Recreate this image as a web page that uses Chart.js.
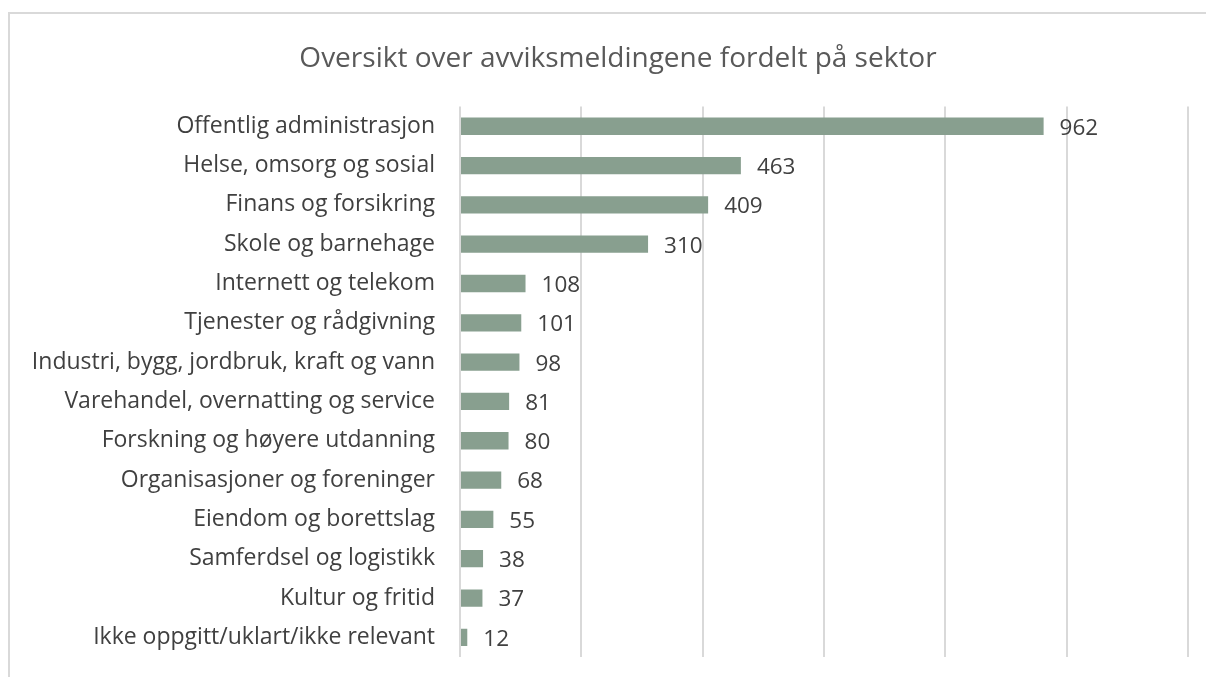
<!DOCTYPE html>
<html>
<head>
<meta charset="utf-8">
<script src="https://cdn.jsdelivr.net/npm/chart.js@4"></script>
<style>
  html, body { margin: 0; padding: 0; background: #fff; overflow: hidden; }
  #wrap { position: absolute; left: 0; top: 0; width: 1206px; height: 677px; }
  #frame { position: absolute; left: 8px; top: 12px; width: 1220px; height: 700px; border: 2px solid #d9d9d9; box-sizing: border-box; pointer-events: none; }
</style>
</head>
<body>
<div id="wrap"><canvas id="chart" width="1206" height="677"></canvas></div>
<div id="frame"></div>
<script>
const TITLE = "Oversikt over avviksmeldingene fordelt på sektor";
const SECTORS = [
  "Offentlig administrasjon",
  "Helse, omsorg og sosial",
  "Finans og forsikring",
  "Skole og barnehage",
  "Internett og telekom",
  "Tjenester og rådgivning",
  "Industri, bygg, jordbruk, kraft og vann",
  "Varehandel, overnatting og service",
  "Forskning og høyere utdanning",
  "Organisasjoner og foreninger",
  "Eiendom og borettslag",
  "Samferdsel og logistikk",
  "Kultur og fritid",
  "Ikke oppgitt/uklart/ikke relevant"
];
const COUNTS = [962, 463, 409, 310, 108, 101, 98, 81, 80, 68, 55, 38, 37, 12];
const X_MAX = 1200;
const X_STEP = 200;

const FONT = "'Open Sans', 'DejaVu Sans', sans-serif";

// skriver verdien til høyre for hver stolpe
const valueLabels = {
  id: "valueLabels",
  afterDatasetsDraw(chart) {
    let ctx = chart.ctx;
    let meta = chart.getDatasetMeta(0);
    ctx.save();
    ctx.font = "22.5px " + FONT;
    ctx.fillStyle = "#404040";
    ctx.textAlign = "left";
    ctx.textBaseline = "middle";
    meta.data.forEach((bar, i) => {
      ctx.fillText(String(COUNTS[i]), bar.x + 16, bar.y + 2);
    });
    ctx.restore();
  }
};

function renderChart() {
  const ctx = document.getElementById("chart");
  new Chart(ctx, {
    type: "bar",
    data: {
      labels: SECTORS,
      datasets: [
        {
          data: COUNTS,
          backgroundColor: "#889f8f",
          borderWidth: 0,
          barPercentage: 0.44,
          categoryPercentage: 1,
        },
      ],
    },
    options: {
      indexAxis: "y",
      responsive: false,
      animation: false,
      layout: { padding: { left: 30, right: 0, top: 30, bottom: 20 } },
      plugins: {
        legend: { display: false },
        tooltip: { enabled: false },
        title: {
          display: true,
          text: TITLE,
          color: "#595959",
          font: { family: FONT, size: 28, weight: "normal" },
          padding: { top: 12, bottom: 31 },
        },
      },
      scales: {
        x: {
          min: 0,
          max: X_MAX,
          ticks: { display: false, stepSize: X_STEP },
          grid: { color: "#d9d9d9", lineWidth: 2, drawTicks: false },
          border: { display: false },
          afterFit(scale) {
            scale.height = 0;
            scale.paddingRight = 18;
            scale.paddingLeft = 0;
          },
        },
        y: {
          grid: { display: false, drawTicks: false },
          border: { display: false },
          ticks: {
            color: "#404040",
            font: { family: FONT, size: 23 },
            padding: 25,
            autoSkip: false,
          },
          afterFit(scale) {
            scale.width = 430;
            scale.paddingTop = 0;
            scale.paddingBottom = 0;
          },
        },
      },
    },
    plugins: [valueLabels],
  });
}

renderChart();
</script>
</body>
</html>
